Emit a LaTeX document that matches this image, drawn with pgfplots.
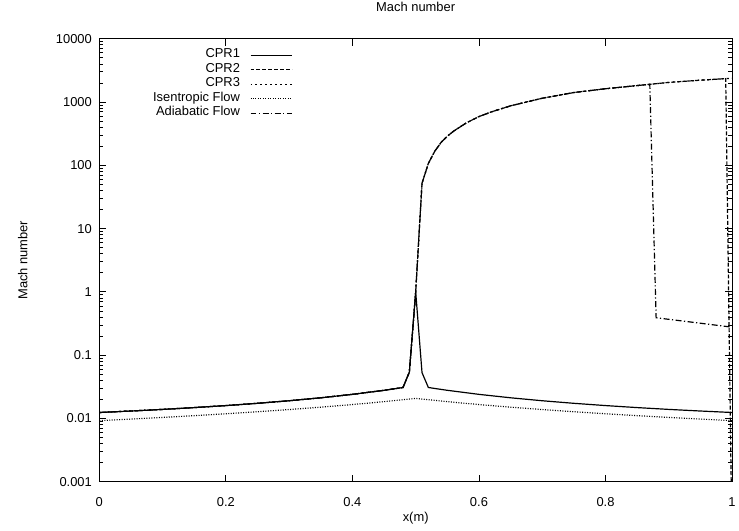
\documentclass[border=0pt]{standalone}
\usepackage{pgfplots}
\pgfplotsset{compat=1.18}
\usepackage{fontspec}
\setmainfont{Liberation Sans}
\begin{document}
\fontsize{13bp}{15bp}\selectfont
\begin{tikzpicture}[font=\fontsize{13bp}{15bp}\selectfont]
\begin{axis}[
  at={(0,0)}, anchor=south west,
  scale only axis, width=637bp, height=446bp,
  xmin=0, xmax=1, ymode=log, ymin=1e-3, ymax=1e4,
  xtick={0,0.2,0.4,0.6,0.8,1}, xticklabels={0,0.2,0.4,0.6,0.8,1},
  ytick={1e-3,1e-2,1e-1,1,10,100,1000,10000},
  yticklabels={0.001,0.01,0.1,1,10,100,1000,10000},
  tick align=inside, xtick pos=both, ytick pos=both,
  xticklabel pos=lower, yticklabel pos=left,
  major tick length=7bp, minor tick length=4bp,
  every tick/.style={black, line width=0.8bp},
  axis line style={line width=0.9bp},
  xticklabel style={yshift=-11bp},
  yticklabel style={xshift=-3bp},
  title={Mach number}, xlabel={x(m)}, ylabel={Mach number},
  title style={at={([yshift=26bp]axis description cs:0.5,1)}, anchor=center},
  xlabel style={at={([yshift=-37bp]axis description cs:0.5,0)}, anchor=center},
  ylabel style={at={([xshift=-77bp]axis description cs:0,0.5)}, anchor=center},
  legend cell align=right, legend plot pos=right,
  legend image code/.code={\draw[#1] (0bp,0bp) -- (42bp,0bp);},
  legend style={draw=none, fill=none, inner sep=0pt, column sep=10bp, row sep=0pt,
    at={([xshift=195bp,yshift=-9bp]axis description cs:0,1)}, anchor=north east,
    nodes={inner sep=0pt, text height=10bp, text depth=4.6bp}},
  every axis plot/.append style={black, line width=1.2bp},
]
% CPR1
\addplot[solid] coordinates {
(0,0.01242) (0.05,0.01311) (0.1,0.01390) (0.15,0.01485) (0.2,0.01598) (0.25,0.01735)
(0.3,0.01905) (0.35,0.02121) (0.4,0.02403) (0.45,0.02785) (0.47,0.02979) (0.48,0.03088)
(0.49,0.054) (0.5,1.0) (0.51,0.053) (0.52,0.03088) (0.53,0.02979) (0.55,0.02785)
(0.6,0.02403) (0.65,0.02121) (0.7,0.01905) (0.75,0.01735) (0.8,0.01598) (0.85,0.01485)
(0.9,0.01390) (0.95,0.01311) (1.0,0.01242)};
\addlegendentry{CPR1}
% CPR2
\addplot[dash pattern=on 4bp off 2bp] coordinates {
(0,0.01242) (0.05,0.01311) (0.1,0.01390) (0.15,0.01485) (0.2,0.01598) (0.25,0.01735)
(0.3,0.01905) (0.35,0.02121) (0.4,0.02403) (0.45,0.02785) (0.47,0.02979) (0.48,0.03088)
(0.49,0.054) (0.5,1.0) (0.51,52) (0.52,107) (0.53,166) (0.54,229) (0.55,288) (0.56,347)
(0.58,468) (0.6,589) (0.62,700) (0.65,871) (0.7,1148) (0.75,1413) (0.8,1622) (0.85,1820)
(0.87,1905) (0.9,2042) (0.95,2213) (0.99,2344) (1.0,0.0001)};
\addlegendentry{CPR2}
% CPR3
\addplot[dash pattern=on 2bp off 3bp] coordinates {
(0,0.01242) (0.05,0.01311) (0.1,0.01390) (0.15,0.01485) (0.2,0.01598) (0.25,0.01735)
(0.3,0.01905) (0.35,0.02121) (0.4,0.02403) (0.45,0.02785) (0.47,0.02979) (0.48,0.03088)
(0.49,0.054) (0.5,1.0) (0.51,52) (0.52,107) (0.53,166) (0.54,229) (0.55,288) (0.56,347)
(0.58,468) (0.6,589) (0.62,700) (0.65,871) (0.7,1148) (0.75,1413) (0.8,1622) (0.85,1820)
(0.87,1905) (0.9,2042) (0.95,2213) (0.99,2344) (1.0,2371)};
\addlegendentry{CPR3}
% Isentropic
\addplot[dash pattern=on 1bp off 1.5bp] coordinates {
(0,0.00923) (0.05,0.00978) (0.1,0.01038) (0.15,0.01107) (0.2,0.01186) (0.25,0.01277)
(0.3,0.01383) (0.35,0.01508) (0.4,0.01658) (0.45,0.01842) (0.5,0.02070)
(0.55,0.01842) (0.6,0.01658) (0.65,0.01508) (0.7,0.01383) (0.75,0.01277) (0.8,0.01186)
(0.85,0.01107) (0.9,0.01038) (0.95,0.00978) (1.0,0.00923)};
\addlegendentry{Isentropic Flow}
% Adiabatic
\addplot[dash pattern=on 6bp off 2.5bp on 1.2bp off 2.5bp] coordinates {
(0,0.01242) (0.05,0.01311) (0.1,0.01390) (0.15,0.01485) (0.2,0.01598) (0.25,0.01735)
(0.3,0.01905) (0.35,0.02121) (0.4,0.02403) (0.45,0.02785) (0.47,0.02979) (0.48,0.03088)
(0.49,0.054) (0.5,1.0) (0.51,52) (0.52,107) (0.53,166) (0.54,229) (0.55,288) (0.56,347)
(0.58,468) (0.6,589) (0.62,700) (0.65,871) (0.7,1148) (0.75,1413) (0.8,1622) (0.85,1820)
(0.87,1905) (0.88,0.39) (0.94,0.329) (1.0,0.277)};
\addlegendentry{Adiabatic Flow}
\end{axis}
\pgfresetboundingbox
\useasboundingbox (-100bp,-49bp) rectangle (644bp,485bp);
\end{tikzpicture}
\end{document}
